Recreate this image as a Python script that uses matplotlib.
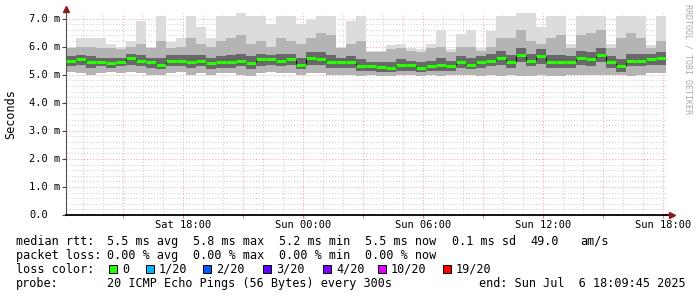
import numpy as np
import matplotlib.pyplot as plt
from matplotlib.patches import Rectangle
from matplotlib.transforms import blended_transform_factory

W, H = 697, 297
MONO = "DejaVu Sans Mono"

# 30 h of smokeping data, one value per 30 min block (ms)
med = [5.48, 5.55, 5.45, 5.45, 5.42, 5.45, 5.58, 5.50, 5.45, 5.35,
       5.50, 5.50, 5.45, 5.50, 5.40, 5.45, 5.45, 5.50, 5.40, 5.55,
       5.55, 5.50, 5.55, 5.35, 5.60, 5.55, 5.45, 5.45, 5.45, 5.30,
       5.30, 5.28, 5.25, 5.35, 5.35, 5.25, 5.30, 5.35, 5.30, 5.45,
       5.35, 5.45, 5.50, 5.60, 5.45, 5.70, 5.50, 5.65, 5.45, 5.45,
       5.45, 5.60, 5.55, 5.70, 5.45, 5.30, 5.50, 5.50, 5.55, 5.60]
lo = [5.10, 5.05, 5.00, 5.05, 5.10, 5.05, 5.10, 5.05, 5.00, 5.00,
      5.05, 5.10, 5.00, 5.05, 5.00, 5.05, 5.05, 5.00, 4.95, 5.05,
      5.10, 5.05, 5.05, 5.00, 5.05, 5.05, 5.00, 5.00, 5.00, 4.95,
      5.00, 4.95, 4.95, 5.00, 5.00, 4.95, 5.00, 4.95, 5.00, 5.00,
      5.00, 4.95, 5.00, 4.95, 5.00, 4.95, 4.95, 5.00, 4.95, 4.95,
      5.00, 5.00, 5.00, 5.00, 5.00, 5.00, 4.95, 5.00, 5.05, 5.05]
q1 = [5.30, 5.35, 5.25, 5.30, 5.25, 5.30, 5.35, 5.30, 5.25, 5.20,
      5.30, 5.30, 5.25, 5.30, 5.20, 5.25, 5.25, 5.30, 5.20, 5.30,
      5.35, 5.30, 5.35, 5.20, 5.35, 5.35, 5.25, 5.25, 5.25, 5.15,
      5.15, 5.10, 5.10, 5.15, 5.15, 5.10, 5.15, 5.15, 5.15, 5.25,
      5.20, 5.25, 5.30, 5.35, 5.25, 5.45, 5.30, 5.40, 5.25, 5.25,
      5.25, 5.35, 5.30, 5.45, 5.25, 5.10, 5.30, 5.30, 5.35, 5.35]
q3 = [5.65, 5.70, 5.65, 5.60, 5.60, 5.60, 5.75, 5.70, 5.60, 5.60,
      5.70, 5.70, 5.70, 5.70, 5.60, 5.65, 5.70, 5.75, 5.65, 5.75,
      5.70, 5.75, 5.75, 5.60, 5.80, 5.80, 5.70, 5.60, 5.65, 5.55,
      5.45, 5.45, 5.45, 5.55, 5.50, 5.45, 5.50, 5.60, 5.50, 5.65,
      5.60, 5.65, 5.75, 5.85, 5.70, 5.95, 5.75, 5.90, 5.70, 5.70,
      5.65, 5.85, 5.80, 5.95, 5.65, 5.55, 5.75, 5.75, 5.75, 5.80]
p90 = [5.95, 6.00, 6.00, 5.95, 5.95, 5.90, 6.00, 6.10, 5.95, 6.20,
       5.95, 6.00, 6.30, 6.10, 6.00, 6.20, 6.30, 6.40, 6.10, 6.20,
       6.00, 6.30, 6.20, 6.10, 6.30, 6.50, 6.40, 5.95, 6.10, 6.20,
       5.80, 5.80, 5.90, 5.95, 5.85, 5.80, 5.95, 6.00, 5.80, 6.00,
       6.00, 5.85, 6.00, 6.30, 6.30, 6.60, 6.20, 6.10, 6.30, 6.40,
       5.95, 6.40, 6.50, 6.60, 5.95, 6.30, 6.50, 6.30, 5.95, 6.20]
hi = [6.00, 6.30, 6.30, 6.30, 6.10, 6.00, 6.20, 6.90, 6.00, 7.10,
      6.15, 6.30, 7.10, 6.70, 6.30, 7.10, 7.10, 7.20, 7.10, 7.10,
      6.80, 7.10, 7.10, 6.80, 6.95, 7.10, 7.10, 6.00, 6.90, 7.10,
      5.85, 5.85, 6.05, 6.10, 5.95, 5.90, 6.10, 6.60, 5.90, 6.45,
      6.60, 5.95, 6.55, 7.10, 7.10, 7.20, 7.20, 6.70, 7.10, 7.10,
      6.10, 7.10, 7.10, 7.10, 6.10, 7.10, 7.10, 7.10, 6.05, 7.10]

x_ticks = [18, 24, 30, 36, 42]  # hours since Sat 00:00
x_labels = ["Sat 18:00", "Sun 00:00", "Sun 06:00", "Sun 12:00", "Sun 18:00"]
y_ticks = [0, 1, 2, 3, 4, 5, 6, 7]

loss_labels = ["0", "1/20", "2/20", "3/20", "4/20", "10/20", "19/20"]
loss_colors = ["#26ff00", "#00b8ff", "#0059ff", "#5e00ff", "#7e00ff", "#dd00ff", "#ff0000"]

t0 = 12 + 9.75 / 60  # Sat 12:09:45
step = 0.5
edges = t0 + step * np.arange(len(med) + 1)


def ext(a):
    return np.append(a, a[-1])


fig = plt.figure(figsize=(W / 100, H / 100), dpi=100)
ax = fig.add_axes([66 / W, 1 - 215 / H, 600 / W, 202 / H])
ax.set_xlim(t0, t0 + 30)
ax.set_ylim(0, 7.2)

# smoke
ax.fill_between(edges, ext(lo), ext(hi), step="post", color="#dcdcdc", lw=0, zorder=2)
ax.fill_between(edges, ext(lo), ext(p90), step="post", color="#b4b4b4", lw=0, zorder=2)
ax.fill_between(edges, ext(q1), ext(q3), step="post", color="#686868", lw=0, zorder=2)
ax.step(edges, ext(med), where="post", color="black", lw=0.7, zorder=3)
ax.hlines(med, edges[:-1], edges[1:], color=loss_colors[0], lw=2.2, zorder=4)

# grid
ax.set_yticks(y_ticks)
ax.set_yticks(np.arange(0.2, 7.2, 0.2), minor=True)
ax.set_xticks(np.arange(15, 43, 3))
ax.set_xticks(np.arange(13, 43, 1), minor=True)
ax.grid(which="minor", color="#cccccc", lw=0.7, ls=(0, (1, 2)), zorder=1)
ax.grid(which="major", color="#eba5a5", lw=0.7, ls=(0, (1, 2)), zorder=1)
ax.tick_params(labelleft=False, labelbottom=False)
ax.tick_params(axis="y", which="major", length=3, color="#404040", direction="out")
ax.tick_params(axis="x", which="major", length=2, color="#e08080", direction="out")
ax.tick_params(which="minor", length=0)

for s in ["top", "right"]:
    ax.spines[s].set_visible(False)
ax.spines["left"].set_color("#505050")
ax.spines["left"].set_linewidth(0.8)
ax.spines["bottom"].set_color("black")
ax.spines["bottom"].set_linewidth(1.3)
ax.plot([0, 0], [1, 1.02], transform=ax.transAxes, color="#505050", lw=0.8, clip_on=False)
ax.plot([1, 1.01], [0, 0], transform=ax.transAxes, color="black", lw=1.3, clip_on=False)
ax.plot([0], [1.022], marker="^", ms=4, color="#8b1a1a", transform=ax.transAxes, clip_on=False)
ax.plot([1.01], [0], marker=">", ms=4, color="#8b1a1a", transform=ax.transAxes, clip_on=False)

# tick labels
ty = blended_transform_factory(fig.transFigure, ax.transData)
for v in y_ticks:
    lab = "0.0" if v == 0 else f"{v:.1f} m"
    fig.text(29 / W, v, lab, transform=ty, ha="left", va="center", family=MONO, fontsize=7.5)
tx = blended_transform_factory(ax.transData, fig.transFigure)
for v, lab in zip(x_ticks, x_labels):
    ax.text(v, 1 - 228 / H, lab, transform=tx, ha="center", va="baseline", family=MONO, fontsize=7.5)

fig.text(11 / W, 1 - 114 / H, "Seconds", rotation=90, ha="center", va="center", family=MONO, fontsize=8.5)
fig.text(688 / W, 1 - 4 / H, "RRDTOOL / TOBI OETIKER", rotation=-90, ha="center", va="top",
         family=MONO, fontsize=6, color="#aaaaaa")


def txt(x, y, s):
    fig.text(x / W, 1 - y / H, s, ha="left", va="baseline", family=MONO, fontsize=8.5)


# legend
txt(16, 245, "median rtt:")
for x, s in zip([107, 193, 279, 365, 452], ["5.5 ms avg", "5.8 ms max", "5.2 ms min", "5.5 ms now", "0.1 ms sd"]):
    txt(x, 245, s)
txt(530, 245, "49.0")
txt(580, 245, "am/s")

txt(16, 259, "packet loss:")
for x, s in zip([107, 193, 279, 365], ["0.00 % avg", "0.00 % max", "0.00 % min", "0.00 % now"]):
    txt(x, 259, s)

txt(16, 273, "loss color:")
box_x = [109, 146, 203, 263, 323, 378, 443]
for bx, lab, c in zip(box_x, loss_labels, loss_colors):
    fig.patches.append(Rectangle((bx / W, 1 - 273 / H), 8 / W, 8 / H, transform=fig.transFigure,
                                 facecolor=c, edgecolor="black", lw=0.7))
    txt(bx + 13, 273, lab)

txt(16, 287, "probe:")
txt(107, 287, "20 ICMP Echo Pings (56 Bytes) every 300s")
txt(479, 287, "end: Sun Jul  6 18:09:45 2025")

fig.savefig("out.png", dpi=100)
